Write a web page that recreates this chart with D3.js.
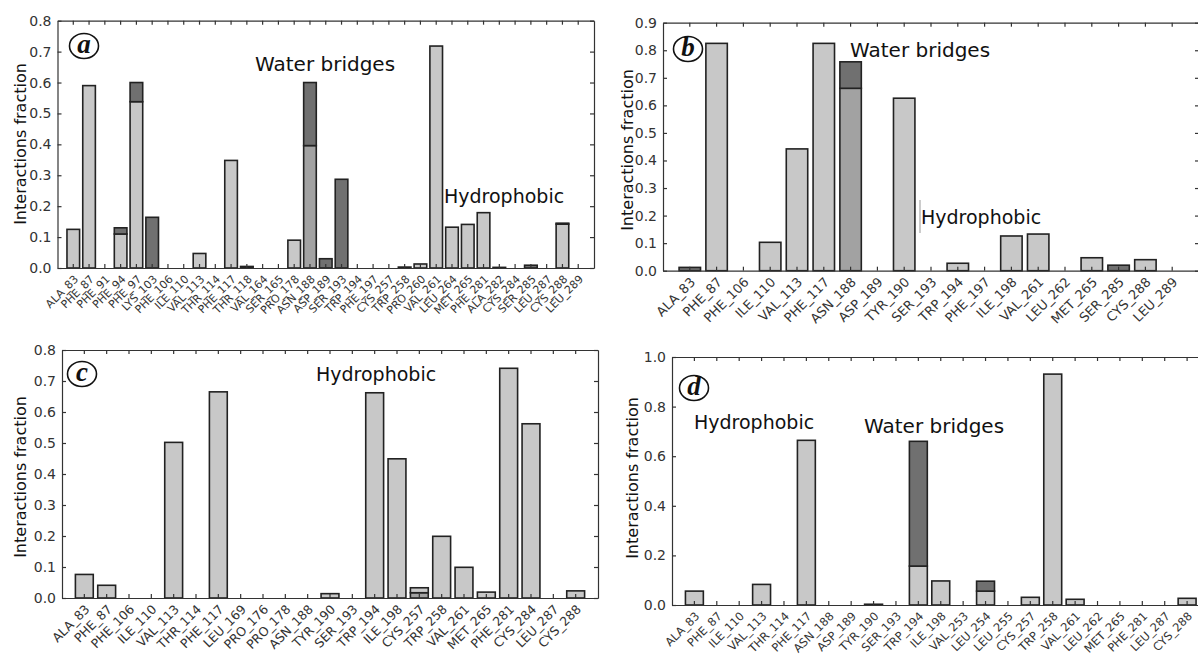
<!DOCTYPE html>
<meta charset="utf-8">
<style>
  body { margin: 0; background: #fff; }
  text { font-family: "DejaVu Sans", sans-serif; }
  .axis path, .axis line { stroke: #333; stroke-width: 1.2; }
  .axis text { fill: #333; }
  .bar { stroke: #222; stroke-width: 1.6; }
  .note { fill: #111; }
</style>
<body>
<svg width="1198" height="657"></svg>
<script src="https://cdn.jsdelivr.net/npm/d3@7"></script>
<script>
// panel a
const aCats = ["ALA_83","PHE_87","PHE_91","PHE_94","PHE_97","LYS_103","PHE_106","ILE_110","VAL_113","THR_114",
  "PHE_117","THR_118","VAL_164","SER_165","PRO_178","ASN_188","ASP_189","SER_193","TRP_194","PHE_197","CYS_257",
  "TRP_258","PRO_260","VAL_261","LEU_264","MET_265","PHE_281","ALA_282","CYS_284","SER_285","LEU_287","CYS_288","LEU_289"];
const aHbond = [0,0,0,0,0,0,0,0,0,0, 0,0,0,0,0,0.396,0,0,0,0,0, 0,0,0,0,0,0,0,0,0,0,0,0];
const aHydro = [0.125,0.59,0,0.11,0.538,0,0,0,0.047,0, 0.348,0,0,0,0.09,0,0,0,0,0,0, 0,0.013,0.718,0.132,0.141,0.179,0,0,0,0,0.142,0];
const aWater = [0,0,0,0.02,0.062,0.164,0,0,0,0, 0,0.005,0,0,0,0.204,0.03,0.287,0,0,0, 0.003,0,0,0,0,0,0.002,0,0.009,0,0.003,0];

// panel b
const bCats = ["ALA_83","PHE_87","PHE_106","ILE_110","VAL_113","PHE_117","ASN_188","ASP_189","TYR_190","SER_193",
  "TRP_194","PHE_197","ILE_198","VAL_261","LEU_262","MET_265","SER_285","CYS_288","LEU_289"];
const bHbond = [0,0,0,0,0,0,0.662,0,0,0, 0,0,0,0,0,0,0,0,0];
const bHydro = [0,0.825,0,0.103,0.442,0.825,0,0,0.626,0, 0.027,0,0.126,0.133,0,0.047,0,0.04,0];
const bWater = [0.012,0,0,0,0,0,0.096,0,0,0, 0,0,0,0,0,0,0.02,0,0];

// panel c
const cCats = ["ALA_83","PHE_87","PHE_106","ILE_110","VAL_113","THR_114","PHE_117","LEU_169","PRO_176","PRO_178",
  "ASN_188","TYR_190","SER_193","TRP_194","ILE_198","CYS_257","TRP_258","VAL_261","MET_265","PHE_281","CYS_284",
  "LEU_287","CYS_288"];
const cHbond = [0,0,0,0,0,0,0,0,0,0, 0,0,0,0,0,0.017,0,0,0,0,0, 0,0];
const cHydro = [0.076,0.041,0,0,0.502,0,0.665,0,0,0, 0,0.014,0,0.662,0.449,0.016,0.199,0.099,0.019,0.741,0.562, 0,0.023];
const cWater = [0,0,0,0,0,0,0,0,0,0, 0,0,0,0,0,0,0,0,0,0,0, 0,0];

// panel d
const dCats = ["ALA_83","PHE_87","ILE_110","VAL_113","THR_114","PHE_117","ASN_188","ASP_189","TYR_190","SER_193",
  "TRP_194","ILE_198","VAL_253","LEU_254","LEU_255","CYS_257","TRP_258","VAL_261","LEU_262","MET_265","PHE_281",
  "LEU_287","CYS_288"];
const dHbond = [0,0,0,0,0,0,0,0,0,0, 0,0,0,0,0,0,0,0,0,0,0, 0,0];
const dHydro = [0.056,0,0,0.083,0,0.664,0,0,0,0, 0.157,0.097,0,0.056,0,0.031,0.931,0.023,0,0,0, 0,0.027];
const dWater = [0,0,0,0,0,0,0,0,0.003,0, 0.503,0,0,0.04,0,0,0,0,0,0,0, 0,0];

const keys = ["hbond", "hydro", "water"];
const fills = { hbond: "#a2a2a2", hydro: "#c8c8c8", water: "#707070" };

const panels = [
  { tag: "a", cats: aCats, hbond: aHbond, hydro: aHydro, water: aWater,
    left: 57.5, right: 594, top: 20.7, bottom: 268, ymax: 0.8, ystep: 0.1, xFont: 11,
    ylabel: [26, 144], badge: [84, 46],
    notes: [["Water bridges", 255, 71, 20], ["Hydrophobic", 444, 203, 19]] },
  { tag: "b", cats: bCats, hbond: bHbond, hydro: bHydro, water: bWater,
    left: 663, right: 1199, top: 22.7, bottom: 270.7, ymax: 0.9, ystep: 0.1, xFont: 13,
    ylabel: [633, 150], badge: [688, 49],
    notes: [["Water bridges", 850, 57, 20], ["Hydrophobic", 921, 224, 19]] },
  { tag: "c", cats: cCats, hbond: cHbond, hydro: cHydro, water: cWater,
    left: 62, right: 598, top: 350, bottom: 598, ymax: 0.8, ystep: 0.1, xFont: 12.5,
    ylabel: [26, 477], badge: [82, 374],
    notes: [["Hydrophobic", 316, 381, 19]] },
  { tag: "d", cats: dCats, hbond: dHbond, hydro: dHydro, water: dWater,
    left: 672, right: 1209.5, top: 357, bottom: 605, ymax: 1.0, ystep: 0.2, xFont: 11.5,
    ylabel: [638, 478], badge: [694, 388],
    notes: [["Hydrophobic", 694, 429, 19], ["Water bridges", 864, 433, 20]] }
];

const svg = d3.select("svg");

panels.forEach(p => {
  const g = svg.append("g");
  const rows = p.cats.map((c, i) => ({ cat: c, hbond: p.hbond[i], hydro: p.hydro[i], water: p.water[i] }));

  const x = d3.scaleBand().domain(p.cats).range([p.left, p.right])
      .paddingInner(0.2).paddingOuter(0.6);
  const y = d3.scaleLinear().domain([0, p.ymax]).range([p.bottom, p.top]);
  const yTicks = d3.range(0, p.ymax + 1e-9, p.ystep);

  const series = d3.stack().keys(keys)(rows);
  series.forEach(s => {
    g.selectAll(null)
      .data(s.filter(d => d[1] - d[0] > 0))
      .enter().append("rect")
        .attr("class", "bar")
        .attr("fill", fills[s.key])
        .attr("x", d => x(d.data.cat))
        .attr("width", x.bandwidth())
        .attr("y", d => y(d[1]))
        .attr("height", d => y(d[0]) - y(d[1]));
  });

  // bottom axis, ticks pointing in
  const xb = g.append("g")
      .attr("class", "axis")
      .attr("transform", `translate(0,${p.bottom})`)
      .call(d3.axisBottom(x).tickSizeInner(-4).tickSizeOuter(0).tickPadding(0));
  xb.selectAll("text")
      .attr("x", 0).attr("y", 0).attr("dy", "0.35em")
      .attr("text-anchor", "end")
      .style("font-size", p.xFont + "px")
      .attr("transform", "translate(3,9) rotate(-45)");

  g.append("g")
      .attr("class", "axis")
      .attr("transform", `translate(0,${p.top})`)
      .call(d3.axisTop(x).tickSizeInner(-4).tickSizeOuter(0).tickFormat(""));

  g.append("g")
      .attr("class", "axis")
      .attr("transform", `translate(${p.left},0)`)
      .call(d3.axisLeft(y).tickValues(yTicks).tickFormat(d3.format(".1f"))
        .tickSizeInner(-4).tickSizeOuter(0).tickPadding(6))
    .selectAll("text").style("font-size", "14px");

  g.append("g")
      .attr("class", "axis")
      .attr("transform", `translate(${p.right},0)`)
      .call(d3.axisRight(y).tickValues(yTicks).tickFormat("").tickSizeInner(-4).tickSizeOuter(0));

  g.append("text")
      .attr("transform", `translate(${p.ylabel[0]},${p.ylabel[1]}) rotate(-90)`)
      .attr("text-anchor", "middle")
      .style("font-size", "16px")
      .attr("fill", "#111")
      .text("Interactions fraction");

  p.notes.forEach(n => {
    g.append("text")
        .attr("class", "note")
        .attr("x", n[1]).attr("y", n[2])
        .style("font-size", n[3] + "px")
        .text(n[0]);
  });

  g.append("ellipse")
      .attr("cx", p.badge[0]).attr("cy", p.badge[1])
      .attr("rx", 14.5).attr("ry", 12.5)
      .attr("fill", "none").attr("stroke", "#111").attr("stroke-width", 1.6);
  g.append("text")
      .attr("x", p.badge[0]).attr("y", p.badge[1] + 7)
      .attr("text-anchor", "middle")
      .style("font-family", "'Liberation Serif', serif")
      .style("font-style", "italic").style("font-weight", "bold")
      .style("font-size", "27px")
      .attr("fill", "#111")
      .text(p.tag);
});

// stray cursor mark next to the label in panel b
svg.append("line")
    .attr("x1", 920).attr("x2", 920).attr("y1", 200).attr("y2", 233)
    .attr("stroke", "#999").attr("stroke-width", 1);
</script>
</body>
</html>
